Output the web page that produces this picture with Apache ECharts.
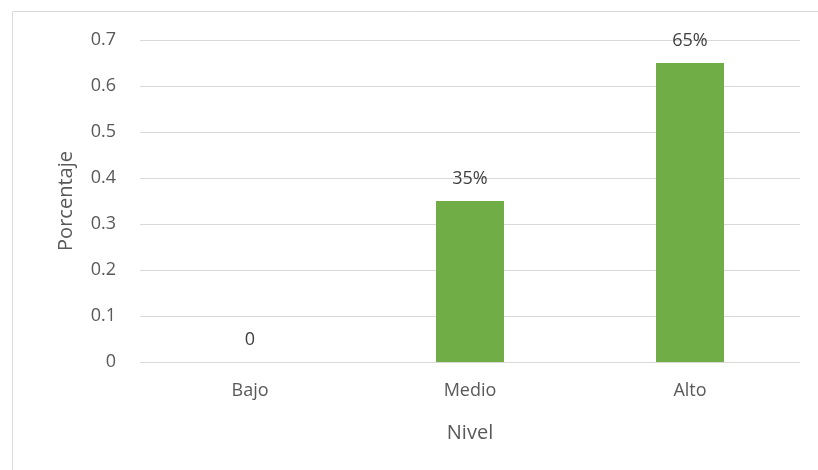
<!DOCTYPE html>
<html><head><meta charset="utf-8">
<script src="https://cdn.jsdelivr.net/npm/echarts@6/dist/echarts.min.js"></script>
<style>html,body{margin:0;padding:0;background:#fff}#c{width:818px;height:470px}</style>
</head><body><div id="c"></div>
<script>
const categories = ['Bajo', 'Medio', 'Alto'];
const values = [0, 0.35, 0.65];
const labels = ['0', '35%', '65%'];
const yTicks = [0, 0.1, 0.2, 0.3, 0.4, 0.5, 0.6, 0.7];

const chart = echarts.init(document.getElementById('c'));
const font = 'Open Sans';
chart.setOption({
  animation: false,
  textStyle: { fontFamily: font },
  graphic: [
    { type: 'line', shape: { x1: 12.5, y1: 11.5, x2: 818, y2: 11.5 }, style: { stroke: '#d9d9d9', lineWidth: 1 } },
    { type: 'line', shape: { x1: 12.5, y1: 11.5, x2: 12.5, y2: 470 }, style: { stroke: '#d9d9d9', lineWidth: 1 } }
  ],
  grid: { left: 140, right: 18, top: 40, bottom: 108, containLabel: false },
  xAxis: {
    type: 'category', data: categories,
    name: 'Nivel', nameLocation: 'middle', nameGap: 61,
    nameTextStyle: { color: '#595959', fontSize: 20, fontFamily: font },
    axisLine: { show: false }, axisTick: { show: false },
    axisLabel: { color: '#595959', fontSize: 18, margin: 20, fontFamily: font },
  },
  yAxis: {
    type: 'value', min: yTicks[0], max: yTicks[yTicks.length - 1], interval: 0.1,
    name: 'Porcentaje', nameLocation: 'middle', nameGap: 64, nameRotate: 90,
    nameTextStyle: { color: '#595959', fontSize: 20, fontFamily: font },
    axisLine: { show: false }, axisTick: { show: false },
    axisLabel: { color: '#595959', fontSize: 18, margin: 24, fontFamily: font,
      formatter: v => String(Math.round(v * 10) / 10) },
    splitLine: { lineStyle: { color: '#d9d9d9', width: 1 } }
  },
  series: [{
    type: 'bar', data: values, barWidth: 68,
    itemStyle: { color: '#70AD47' },
    label: { show: true, position: 'top', distance: 13, color: '#404040', fontSize: 18, fontFamily: font,
      formatter: p => labels[p.dataIndex] }
  }]
});
</script></body></html>
